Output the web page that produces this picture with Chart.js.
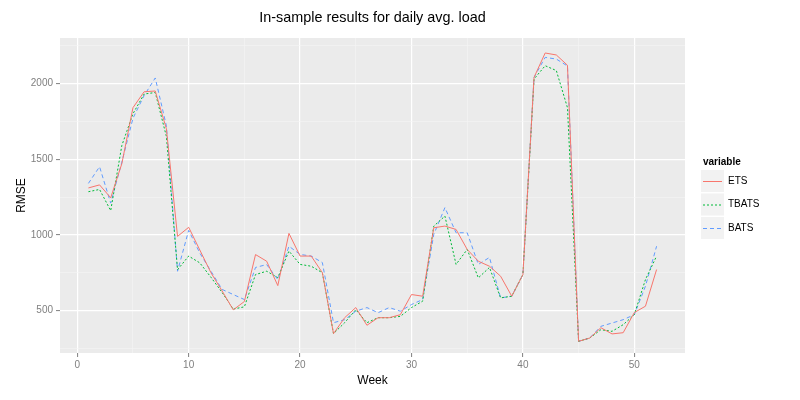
<!DOCTYPE html>
<html lang="en">
<head>
  <meta charset="utf-8">
  <title>In-sample results for daily avg. load</title>
  <script src="https://cdn.jsdelivr.net/npm/chart.js@4.4.0/dist/chart.umd.min.js"></script>
  <style>
    html, body { margin: 0; padding: 0; background: #fff; }
    #wrap { width: 800px; height: 400px; }
  </style>
</head>
<body>
<div id="wrap"><canvas id="lineChart"></canvas></div>
<script>
// values
var weeks = [1,2,3,4,5,6,7,8,9,10,11,12,13,14,15,16,17,18,19,20,21,22,23,24,25,26,
             27,28,29,30,31,32,33,34,35,36,37,38,39,40,41,42,43,44,45,46,47,48,49,50,51,52];
var seriesNames = ['ETS', 'TBATS', 'BATS'];
var ets = [1310,1330,1245,1470,1840,1945,1950,1700,990,1050,900,750,630,505,560,870,826,665,1010,860,
           860,750,348,453,520,403,453,453,473,606,595,1047,1058,1036,904,826,793,727,595,738,
           2040,2201,2188,2120,297,319,387,346,354,487,529,771];
var tbats = [1285,1300,1160,1590,1800,1930,1940,1650,770,860,815,720,620,510,525,738,760,718,893,805,
             793,750,348,420,506,420,453,453,462,520,562,1058,1124,805,904,716,785,584,595,738,
             2029,2117,2085,1840,297,319,374,363,407,473,705,860];
var bats = [1340,1450,1210,1480,1770,1920,2036,1720,760,1030,880,760,640,606,573,785,804,705,925,871,
            860,817,420,440,496,520,486,520,496,540,573,1003,1180,1014,1014,805,851,584,595,738,
            2040,2172,2161,2115,297,319,396,418,440,473,661,925];
var yTicks = [250,500,750,1000,1250,1500,1750,2000,2250];
var xTicks = [0,5,10,15,20,25,30,35,40,45,50];

function pts(vals) {
  var out = [];
  for (let i = 0; i < weeks.length; i++) out.push({x: weeks[i], y: vals[i]});
  return out;
}

var font = 'Liberation Sans, Arial, sans-serif';

// panel background, titles and the ggplot-like legend
var decor = {
  id: 'decor',
  beforeDraw: function(chart) {
    var c = chart.ctx, a = chart.chartArea;
    c.save();
    c.fillStyle = '#EBEBEB';
    c.fillRect(a.left, a.top, a.right - a.left, a.bottom - a.top);
    c.restore();
  },
  afterDraw: function(chart) {
    var c = chart.ctx, a = chart.chartArea;
    c.save();
    c.fillStyle = '#000';
    c.textAlign = 'center';
    c.textBaseline = 'middle';
    c.font = '14.4px ' + font;
    c.fillText('In-sample results for daily avg. load', (a.left + a.right) / 2, 18);
    c.font = '12px ' + font;
    c.fillText('Week', (a.left + a.right) / 2, 381);
    c.save();
    c.translate(22, (a.top + a.bottom) / 2);
    c.rotate(-Math.PI / 2);
    c.fillText('RMSE', 0, 0);
    c.restore();

    // legend
    c.textAlign = 'left';
    c.font = 'bold 10px ' + font;
    c.fillText('variable', 703, 162);
    c.font = '10px ' + font;
    var ds = chart.data.datasets;
    for (let i = 0; i < ds.length; i++) {
      var cy = 181 + i * 23.5;
      c.fillStyle = '#F2F2F2';
      c.fillRect(701, cy - 11, 23, 22);
      c.strokeStyle = ds[i].borderColor;
      c.lineWidth = 1;
      c.setLineDash(ds[i].borderDash || []);
      c.beginPath();
      c.moveTo(703, cy + 0.5);
      c.lineTo(722, cy + 0.5);
      c.stroke();
      c.setLineDash([]);
      c.fillStyle = '#000';
      c.fillText(ds[i].label, 728, cy);
    }
    c.restore();
  }
};

function gridColor(ctx) {
  return ctx.tick && ctx.tick.major ? '#FFFFFF' : '#F5F5F5';
}

var ctx = document.getElementById('lineChart').getContext('2d');
var mychart = new Chart(ctx, {
  type: 'line',
  data: {
    datasets: [
      { label: seriesNames[0], data: pts(ets), borderColor: '#F8766D', borderWidth: 1 },
      { label: seriesNames[1], data: pts(tbats), borderColor: '#00BA38', borderWidth: 1, borderDash: [2, 2] },
      { label: seriesNames[2], data: pts(bats), borderColor: '#619CFF', borderWidth: 1, borderDash: [4, 3] }
    ]
  },
  options: {
    responsive: true,
    maintainAspectRatio: false,
    animation: false,
    elements: { point: { radius: 0 }, line: { tension: 0 } },
    layout: { padding: { left: 0, top: 38, right: 115, bottom: 0 } },
    plugins: { legend: { display: false }, title: { display: false }, tooltip: { enabled: false } },
    scales: {
      x: {
        type: 'linear',
        min: -1.55,
        max: 54.55,
        afterBuildTicks: function(s) {
          s.ticks = xTicks.map(function(v) { return { value: v, major: v % 10 === 0 }; });
        },
        afterFit: function(s) { s.height = 47; },
        border: { display: false },
        grid: {
          color: gridColor,
          lineWidth: function(ctx) { return ctx.tick && ctx.tick.major ? 1.2 : 0.6; },
          tickColor: function(ctx) { return ctx.tick && ctx.tick.major ? '#7F7F7F' : 'rgba(0,0,0,0)'; },
          tickLength: 4,
          tickWidth: 1
        },
        ticks: {
          autoSkip: false,
          maxRotation: 0,
          padding: 2,
          color: '#7F7F7F',
          font: { family: font, size: 10 },
          callback: function(v) { return v % 10 === 0 ? v : ''; }
        }
      },
      y: {
        min: 220,
        max: 2300,
        afterBuildTicks: function(s) {
          s.ticks = yTicks.map(function(v) { return { value: v, major: v % 500 === 0 }; });
        },
        afterFit: function(s) { s.width = 60; },
        border: { display: false },
        grid: {
          color: gridColor,
          lineWidth: function(ctx) { return ctx.tick && ctx.tick.major ? 1.2 : 0.6; },
          tickColor: function(ctx) { return ctx.tick && ctx.tick.major ? '#7F7F7F' : 'rgba(0,0,0,0)'; },
          tickLength: 4,
          tickWidth: 1
        },
        ticks: {
          autoSkip: false,
          padding: 3,
          color: '#7F7F7F',
          font: { family: font, size: 10 },
          callback: function(v) { return v % 500 === 0 ? v : ''; }
        }
      }
    }
  },
  plugins: [decor]
});
</script>
</body>
</html>
